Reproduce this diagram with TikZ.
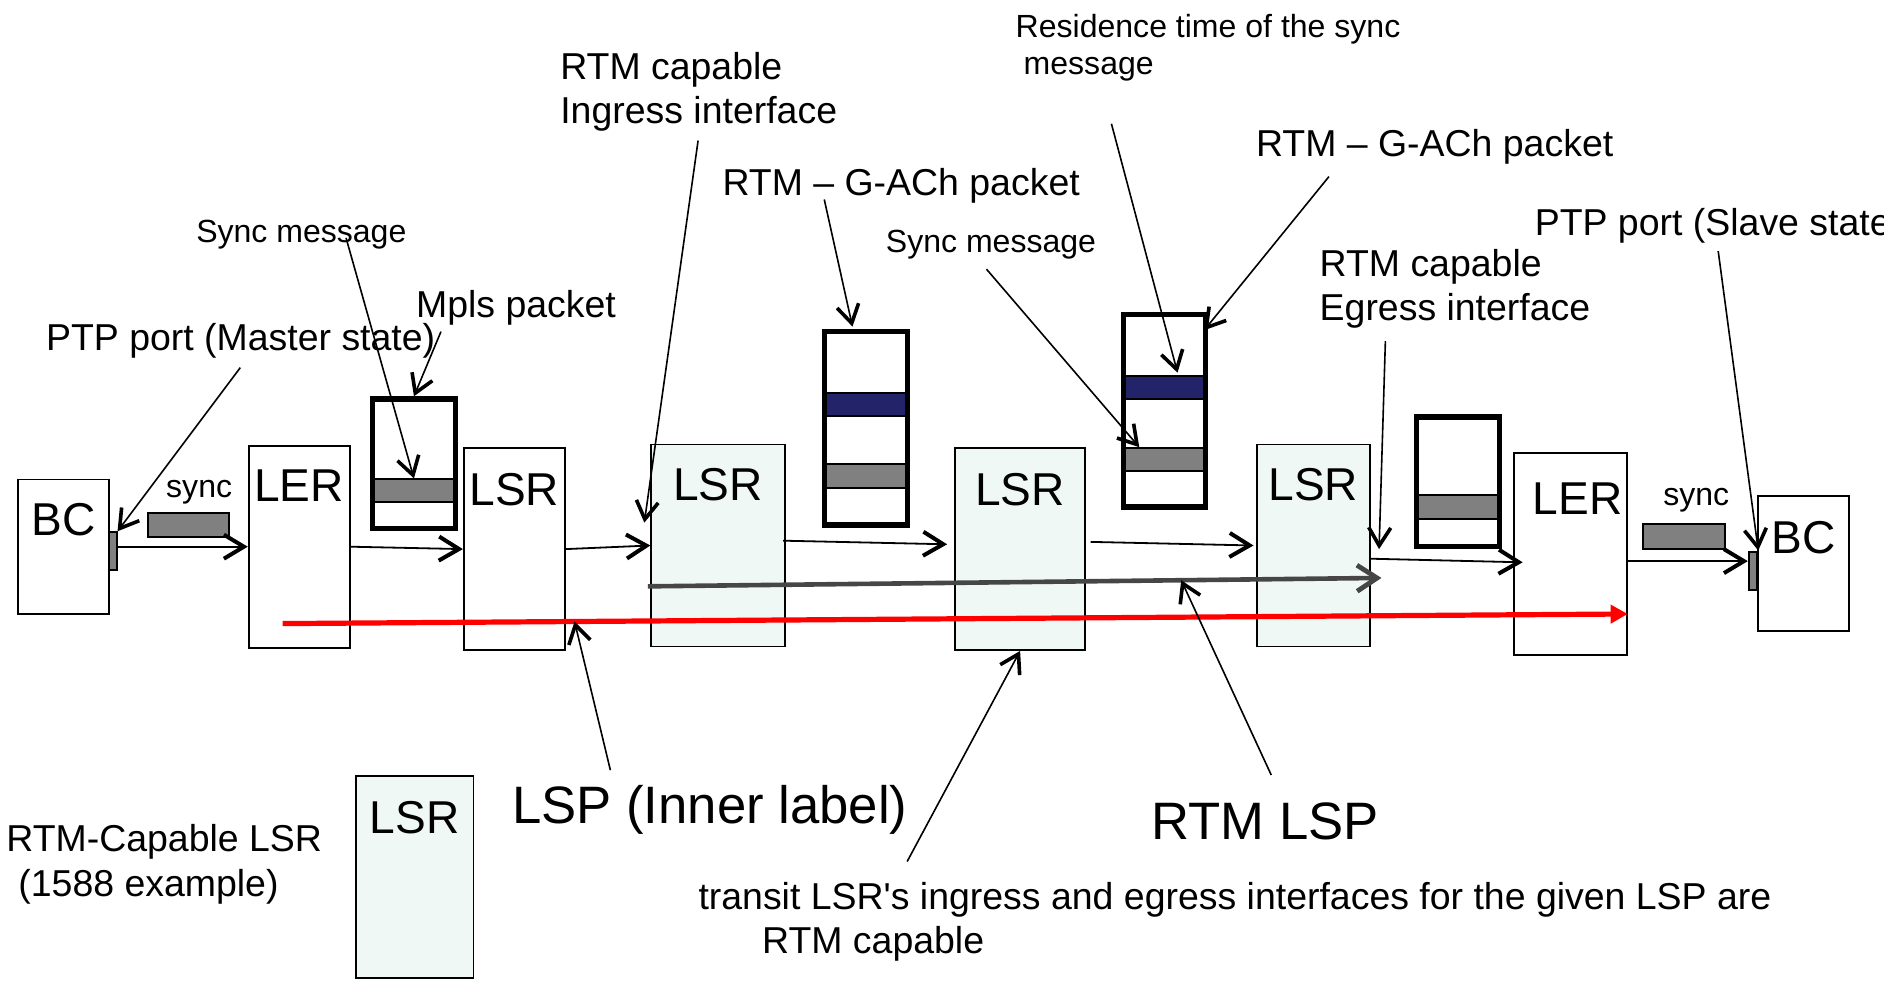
\documentclass[tikz,border=0pt]{standalone}
\usepackage{fontspec}
\setmainfont{Liberation Sans}
\usepackage{tikz}
\usetikzlibrary{calc}
\usetikzlibrary{arrows.meta}

\definecolor{rtmfill}{RGB}{240,248,246}
\definecolor{navy}{RGB}{35,35,105}
\definecolor{pktgrey}{RGB}{128,128,128}
\definecolor{lspgrey}{RGB}{70,70,70}

\newcommand\fsml{\fontsize{16}{18.6}\selectfont}
\newcommand\fmid{\fontsize{18.7}{22.2}\selectfont}
\newcommand\flab{\fontsize{23}{27}\selectfont}
\newcommand\fbig{\fontsize{26.3}{30}\selectfont}

\begin{document}
\begin{tikzpicture}[x=0.6pt, y=-0.6pt,
    sz/.style 2 args={minimum width=#1*0.6pt, minimum height=#2*0.6pt},
    box/.style={draw, line width=0.9pt, inner sep=0pt},
    rtm/.style={box, fill=rtmfill},
    pkt/.style={draw, line width=2.6pt, inner sep=0pt},
    band/.style={draw, line width=1pt, fill=#1, inner sep=0pt},
    msg/.style={draw, line width=1pt, fill=pktgrey, inner sep=0pt},
    txt/.style={anchor=west, inner sep=0pt, align=left},
    link/.style={-{Straight Barb[length=10pt, width=12pt, line width=2pt]}, line width=0.9pt},
    callout/.style={-{Straight Barb[length=9pt, width=11pt, line width=1.8pt]}, line width=0.8pt}]
    \clip (0,0) rectangle (1568,821.5);
    % Define the box height
    \def\boxh{168}

    % Routers
    \node[box, sz={76}{112}] (BC1) at (53,455) {};
    \node[box, sz={84}{\boxh}] (LER1) at (249,455) {};
    \node[box, sz={84}{\boxh}] (LSR1) at (428,457) {};
    \foreach \n/\x/\y/\w in {2/597.5/454/111, 3/849/457/108, 4/1093/454/94} {
        \node[rtm, sz={\w}{\boxh}] (LSR\n) at (\x,\y) {};
    }
    \node[box, sz={94}{\boxh}] (LER2) at (1307,461) {};
    \node[box, sz={76}{112}] (BC2) at (1501,469) {};
    \node[rtm, sz={98}{\boxh}] (LSR5) at (345,730) {};

    % PTP ports
    \node[msg, sz={6}{31}] (port1) at (94,458.5) {};
    \node[msg, sz={7}{32}] (port2) at (1459,475) {};

    % Label the routers
    \node at ([yshift=-20.4pt]BC1.north) {\flab BC};
    \node at ([yshift=-20.4pt]LER1.north) {\flab LER};
    \node at ([yshift=-21pt]LSR1.north) {\flab LSR};
    \node at ([yshift=-20.4pt]LSR2.north) {\flab LSR};
    \node at ([yshift=-21pt]LSR3.north) {\flab LSR};
    \node at ([yshift=-20.4pt]LSR4.north) {\flab LSR};
    \node at ([xshift=3.6pt, yshift=-23.4pt]LER2.north) {\flab LER};
    \node at ([yshift=-21pt]BC2.north) {\flab BC};
    \node at ([yshift=-21pt]LSR5.north) {\flab LSR};

    % Packets (bands first, frame on top)
    \node[band=pktgrey, sz={69}{19}] (G1) at (344.5,408.5) {};
    \node[pkt, sz={69}{108}] (P1) at (344.5,386) {};
    \node[band=navy, sz={69}{19}] (N2) at (720.5,336.5) {};
    \node[band=pktgrey, sz={69}{20}] (G2) at (720.5,396) {};
    \node[pkt, sz={69}{161}] (P2) at (720.5,356.5) {};
    \node[band=navy, sz={68}{19}] (N3) at (969,322.5) {};
    \node[band=pktgrey, sz={68}{19}] (G3) at (969,382.5) {};
    \node[pkt, sz={68}{160}] (P3) at (969,342) {};
    \node[band=pktgrey, sz={69}{20}] (G4) at (1213.5,422) {};
    \node[pkt, sz={69}{108}] (P4) at (1213.5,401) {};

    % Sync messages on the wire
    \node[msg, sz={68}{20}] (S1) at (157,437) {};
    \node[msg, sz={69}{21}] (S2) at (1401.5,446.5) {};

    % Texts
    \node[txt, font=\fsml] (tRes) at (845,40) {Residence time of the sync\\\hspace*{4pt}message};
    \node[txt, font=\fmid] (tIng) at (466,76.5) {RTM capable\\Ingress interface};
    \node[txt, font=\fmid] (tGach2) at (1045,122) {RTM – G-ACh packet};
    \node[txt, font=\fmid] (tGach1) at (601,155) {RTM – G-ACh packet};
    \node[txt, font=\fmid] (tSlave) at (1277,188) {PTP port (Slave state)};
    \node[txt, font=\fsml] (tSync1) at (163,195) {Sync message};
    \node[txt, font=\fsml] (tSync2) at (737,204) {Sync message};
    \node[txt, font=\fmid] (tEgr) at (1098,240.5) {RTM capable\\Egress interface};
    \node[txt, font=\fmid] (tMpls) at (346,256) {Mpls packet};
    \node[txt, font=\fmid] (tMaster) at (38,284) {PTP port (Master state)};
    \node[txt, font=\fsml] (tS1) at (138,410) {sync};
    \node[txt, font=\fsml] (tS2) at (1384,416) {sync};
    \node[txt, font=\fbig] (tLsp) at (426,674) {LSP (Inner label)};
    \node[txt, font=\fbig] (tRtm) at (958,684) {RTM LSP};
    \node[txt, font=\fmid] (tLeg) at (5,719.5) {RTM-Capable LSR\\\hspace*{6pt}(1588 example)};
    \node[txt, font=\fmid] (tTr) at (581,767) {transit LSR\textquotesingle s ingress and egress interfaces for the given LSP are\\\hspace*{31.8pt}RTM capable};

    % Paths
    \draw[link] (port1.east |- LER1.west) -- (LER1.west); % BC -> LER
    \draw[link] (LER1.east) -- (LSR1.west); % LER -> LSR
    \draw[link] (LSR1.east) -- (LSR2.west); % LSR -> LSR
    \draw[link] ($(LSR2.east)+(-2,-4)$) -- ($(LSR3.west)+(-6,-4)$);
    \draw[link] ($(LSR3.east)+(4,-6)$) -- ($(LSR4.west)+(-2,0)$);
    \draw[link] ($(LSR4.east)+(0,11)$) -- ($(LER2.west)+(8,7)$); % LSR -> LER
    \draw[link] ($(LER2.east)+(0,6)$) coordinate (e2) -- (e2 -| port2.west); % LER -> BC

    % LSPs
    \draw[line width=2.3pt, lspgrey, -{Straight Barb[length=10pt, width=13pt, line width=2.4pt]}]
        ($(LSR2.west)+(-2,34)$) -- coordinate[pos=0.727] (hitG) ($(LSR4.east)+(9,27)$);
    \draw[line width=2.6pt, red, -{Triangle[length=8.6pt, width=9pt]}]
        ($(LER1.west)+(29,64)$) -- coordinate[pos=0.217] (hitR) ($(LER2.east)+(0,50)$);

    % Callouts
    \coordinate (cMaster) at (200,306);
    \coordinate (cSync1) at (288,198);
    \coordinate (cMpls) at (367,276);
    \coordinate (cIng) at (581,117);
    \coordinate (cGach1) at (686,166);
    \coordinate (cSync2) at (821,224);
    \coordinate (cRes) at (925,103);
    \coordinate (cGach2) at (1106,147);
    \coordinate (cEgr) at (1153,284);
    \coordinate (cSlave) at (1430,209);
    \coordinate (cLsp) at (508,641);
    \coordinate (cTr) at (755,717);
    \coordinate (cRtm) at (1058,645);
    \draw[callout] (cMaster) -- (port1.north east);
    \draw[callout] (cSync1) -- (G1.north);
    \draw[callout] (cMpls) -- (P1.north);
    \draw[callout] (cIng) -- ($(LSR2.west)+(-5,-19)$);
    \draw[callout] (cGach1) -- ($(P2.north)+(-11,-2)$);
    \draw[callout] (cSync2) -- ($(G3.north west)+(14,0)$);
    \draw[callout] (cRes) -- ($(N3.north)+(11,-2)$);
    \draw[callout] (cGach2) -- ($(P3.north east)+(-3,15)$);
    \draw[callout] (cEgr) -- ($(LSR4.east)+(7,3)$);
    \draw[callout] (cSlave) -- (port2.north east);
    \draw[callout] (cLsp) -- (hitR);
    \draw[callout] (cTr) -- (LSR3.south);
    \draw[callout] (cRtm) -- (hitG);
\end{tikzpicture}
\end{document}
